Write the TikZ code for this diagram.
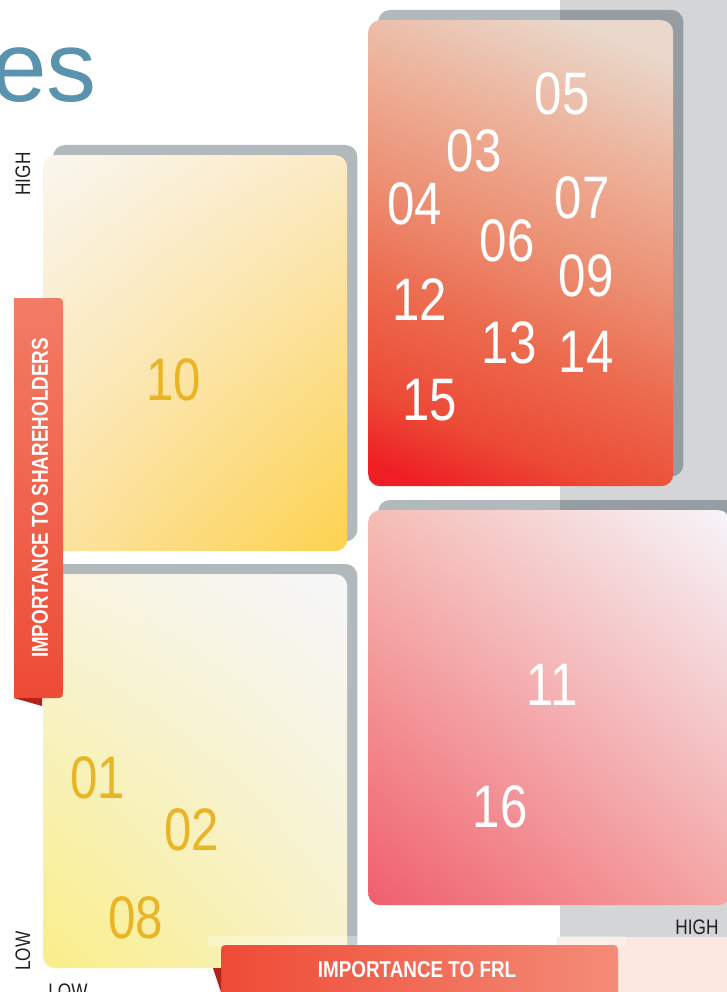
\documentclass[tikz,border=0pt]{standalone}
\usepackage{fontspec}
\setmainfont{Liberation Sans}
\newfontfamily\narrowfont[FakeStretch=0.82]{Liberation Sans}
\usetikzlibrary{calc, shadings, backgrounds}
\definecolor{frlblue}{HTML}{5A93AE}
\definecolor{frlgold}{HTML}{E9B526}
\definecolor{frlstrip}{HTML}{D4D5D7}
\definecolor{frlblush}{HTML}{FCE8E0}
\definecolor{frlshadow}{HTML}{203742}
\definecolor{frlfold}{HTML}{B52017}
\definecolor{frlink}{HTML}{231F20}
\definecolor{hotA}{HTML}{EE1E24}
\definecolor{hotB}{HTML}{EC4A36}
\definecolor{hotC}{HTML}{EC6A4E}
\definecolor{hotD}{HTML}{EC9074}
\definecolor{hotE}{HTML}{EDB098}
\definecolor{hotF}{HTML}{E9D8CB}
\definecolor{goldUL}{HTML}{FAF6EF}
\definecolor{goldUR}{HTML}{FBEAC4}
\definecolor{goldLL}{HTML}{FCE3A4}
\definecolor{goldLR}{HTML}{FDD24E}
\definecolor{paleUL}{HTML}{F8F4DE}
\definecolor{paleUR}{HTML}{F6F6FA}
\definecolor{paleLL}{HTML}{F9EE88}
\definecolor{paleLR}{HTML}{F8F2C8}
\definecolor{pinkUL}{HTML}{F5BDB6}
\definecolor{pinkUR}{HTML}{F6F5FA}
\definecolor{pinkLL}{HTML}{F05E6C}
\definecolor{pinkLR}{HTML}{F4A6A4}
\definecolor{ribbonlo}{HTML}{EE4B36}
\definecolor{ribbonhi}{HTML}{F27C65}
\definecolor{ribbonend}{HTML}{F48C78}
\pgfdeclareverticalshading{hotfade}{100bp}{color(0bp)=(hotA); color(20bp)=(hotA);
  color(28bp)=(hotB); color(40bp)=(hotC); color(52bp)=(hotD); color(64bp)=(hotE); color(78bp)=(hotF); color(100bp)=(hotF)}

\begin{document}
\begin{tikzpicture}[x=1pt, y=-1pt,
    quad/.style={rectangle, rounded corners=12pt, anchor=north west, inner sep=0pt},
    quadshadow/.style={fill=frlshadow, fill opacity=0.35, rounded corners=12pt},
    score/.style={font=\narrowfont\fontsize{60}{60}\selectfont, inner sep=0pt},
    hot/.style={score, text=white},
    warm/.style={score, text=frlgold},
    tick/.style={font=\narrowfont\fontsize{21}{21}\selectfont, text=frlink, inner sep=0pt},
    ribbon/.style={font=\narrowfont\bfseries\fontsize{23}{23}\selectfont, text=white, inner sep=0pt}
  ]
  \useasboundingbox (0,0) rectangle (727,992);
  \clip (0,0) rectangle (727,992);

  \node[font=\fontsize{100}{100}\selectfont, text=frlblue, anchor=base east, inner sep=0pt] (title) at (97,102) {es};

  % quadrants
  \node[quad, minimum width=305pt, minimum height=466pt, shading=hotfade, shading angle=-22] (hothigh) at (368,20) {};
  \node[quad, minimum width=304pt, minimum height=396pt,
    upper left=goldUL, upper right=goldUR, lower left=goldLL, lower right=goldLR] (goldhigh) at (43,155) {};
  \node[quad, minimum width=304pt, minimum height=394pt,
    upper left=paleUL, upper right=paleUR, lower left=paleLL, lower right=paleLR] (goldlow) at (43,574) {};
  \node[quad, minimum width=362pt, minimum height=395pt,
    upper left=pinkUL, upper right=pinkUR, lower left=pinkLL, lower right=pinkLR] (pinklow) at (368,510) {};

  \begin{scope}[on background layer]
    \fill[frlstrip] (560,0) rectangle (727,937);
    \fill[frlblush] (557,937) rectangle (727,992);
    \foreach \q in {hothigh, goldhigh, goldlow, pinklow}
      \fill[quadshadow] ($(\q.south west)+(10,-10)$) rectangle ($(\q.north east)+(10,-10)$);
  \end{scope}

  % issue numbers
  \foreach \num/\px/\py in {05/562/94, 03/474/151, 04/415/204, 07/582/198, 06/507/241,
      09/586/276, 12/420/300, 13/509/343, 14/586/352, 15/430/400, 11/552/685, 16/500/807}
    \node[hot] (n\num) at (\px,\py) {\num};
  \foreach \num/\px/\py in {10/174/380, 01/98/778, 02/192/830, 08/136/918}
    \node[warm] (n\num) at (\px,\py) {\num};

  % axis ribbons
  \fill[white, fill opacity=0.3] (208,936) rectangle (626,946);
  \shade[top color=ribbonhi, bottom color=ribbonlo]
    (14,298) -- (54,298) .. controls (63,298) .. (63,307) -- (63,689) .. controls (63,698) .. (54,698) -- (14,698) -- cycle;
  \fill[frlfold] (14,698) -- (42,698) -- (42,706) -- cycle;
  \node[ribbon, rotate=90] (yaxis) at (40,498) {IMPORTANCE TO SHAREHOLDERS};

  \shade[left color=ribbonlo, right color=ribbonend]
    (221,1000) -- (221,955) .. controls (221,945) .. (231,945) -- (608,945) .. controls (618,945) .. (618,955) -- (618,1000) -- cycle;
  \fill[frlfold] (213,968) -- (221,968) -- (221,992) -- cycle;
  \node[ribbon] (xaxis) at (417,970) {IMPORTANCE TO FRL};

  % scale ends
  \node[tick, rotate=90] (yhigh) at (23,174) {HIGH};
  \node[tick, rotate=90] (ylow) at (23,951) {LOW};
  \node[tick] (xlow) at (68,991) {LOW};
  \node[tick] (xhigh) at (697,927) {HIGH};
\end{tikzpicture}
\end{document}
